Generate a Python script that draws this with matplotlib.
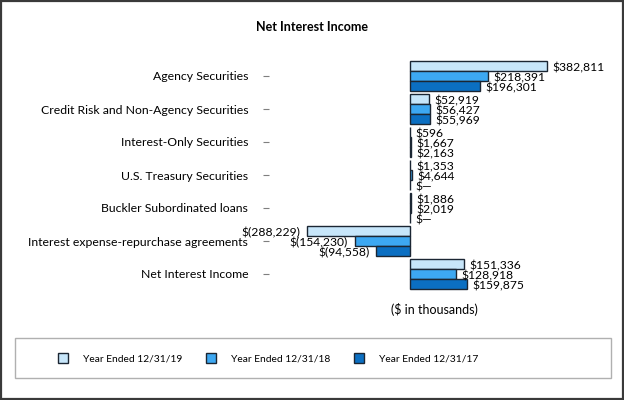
import matplotlib
matplotlib.use("Agg")
import matplotlib.pyplot as plt
from matplotlib.patches import Rectangle
import numpy as np

plt.rcParams["font.family"] = ["Lato", "DejaVu Sans"]

# ---------------------------------------------------------------------------
# Data ($ in thousands)
# ---------------------------------------------------------------------------
categories = [
    "Agency Securities",
    "Credit Risk and Non-Agency Securities",
    "Interest-Only Securities",
    "U.S. Treasury Securities",
    "Buckler Subordinated loans",
    "Interest expense-repurchase agreements",
    "Net Interest Income",
]
series_names = ["Year Ended 12/31/19", "Year Ended 12/31/18", "Year Ended 12/31/17"]
y2019 = [382811, 52919, 596, 1353, 1886, -288229, 151336]
y2018 = [218391, 56427, 1667, 4644, 2019, -154230, 128918]
y2017 = [196301, 55969, 2163, 0, 0, -94558, 159875]

colors = ["#C7E6FA", "#3DA8F2", "#0B6FC2"]
EDGE = "#1b2633"


def fmt(v):
    if v == 0:
        return "$\u2014"
    if v < 0:
        return f"$({-v:,})"
    return f"${v:,}"


fig = plt.figure(figsize=(6.24, 4.0), dpi=100)
ax = fig.add_axes([269 / 624, 1 - 290.5 / 400, 331 / 624, 231 / 400])

pos = np.arange(len(categories))
offsets = [-0.303, 0.0, 0.303]
bar_h = 0.29
handles = []
for vals, off, col, name in zip([y2019, y2018, y2017], offsets, colors, series_names):
    bars = ax.barh(pos + off, vals, height=bar_h, color=col, edgecolor=EDGE,
                   linewidth=1.0, label=name)
    handles.append(bars)
    for y, v in zip(pos + off, vals):
        if v < 0:
            ax.annotate(fmt(v), (v, y), xytext=(-5, -1.2), textcoords="offset points",
                        ha="right", va="center", fontsize=8.7)
        else:
            ax.annotate(fmt(v), (v, y), xytext=(4, -1.2), textcoords="offset points",
                        ha="left", va="center", fontsize=8.7)

ax.set_xlim(-394000, 531000)
ax.set_ylim(len(categories) - 0.5, -0.5)
ax.set_yticks(pos)
ax.set_yticklabels(categories, fontsize=8.8)
ax.tick_params(axis="y", length=4, width=0.8, color="#7f7f7f", pad=11)
ax.set_xticks([])
for s in ax.spines.values():
    s.set_visible(False)
ax.set_xlabel("($ in thousands)", fontsize=9, labelpad=9)

fig.suptitle("Net Interest Income", x=0.5, y=1 - 27 / 400, va="center",
             fontsize=9, fontweight="bold")

# legend frame and entries
fig.patches.append(Rectangle((15 / 624, 1 - 378 / 400), 596 / 624, 40 / 400,
                             transform=fig.transFigure, fill=False,
                             edgecolor="#b0b0b0", linewidth=1.0))
fig.legend(handles=handles, loc="center left", bbox_to_anchor=(58 / 624, 1 - 358 / 400),
           borderaxespad=0, borderpad=0, ncol=3, frameon=False, fontsize=7.4,
           handlelength=0.95, handleheight=1.15, handletextpad=1.5, columnspacing=2.3)

# outer border
fig.patches.append(Rectangle((0.002, 0.003), 0.996, 0.994, transform=fig.transFigure,
                             fill=False, edgecolor="#3a3a3a", linewidth=1.6))

fig.savefig("out.png", dpi=100)
